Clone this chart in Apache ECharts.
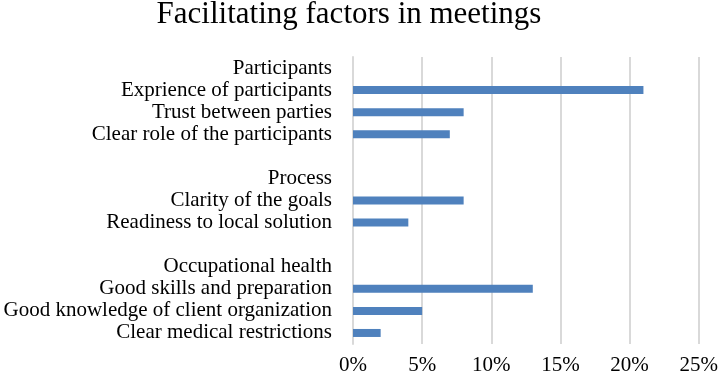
<!DOCTYPE html>
<html>
<head>
<meta charset="utf-8">
<script src="https://cdn.jsdelivr.net/npm/echarts@6/dist/echarts.min.js"></script>
<style>
  html, body { margin: 0; padding: 0; background: #fff; }
  #main { width: 721px; height: 377px; }
</style>
</head>
<body>
<div id="main"></div>
<script>
var categories = [
  'Participants',
  'Exprience of participants',
  'Trust between parties',
  'Clear role of the participants',
  '',
  'Process',
  'Clarity of the goals',
  'Readiness to local solution',
  ' ',
  'Occupational health',
  'Good skills and preparation',
  'Good knowledge of client organization',
  'Clear medical restrictions'
];
var values = [null, 0.21, 0.08, 0.07, null, null, 0.08, 0.04, null, null, 0.13, 0.05, 0.02];

var chart = echarts.init(document.getElementById('main'), null, { renderer: 'canvas' });

var option = {
  animation: false,
  title: {
    text: 'Facilitating factors in meetings',
    left: 344,
    textAlign: 'center',
    top: -6,
    textStyle: {
      fontFamily: 'Liberation Serif',
      fontWeight: 'normal',
      fontSize: 31,
      color: '#000'
    }
  },
  grid: {
    left: 353,
    right: 19,
    top: 57,
    bottom: 33,
    containLabel: false
  },
  xAxis: {
    type: 'value',
    min: 0,
    max: 0.25,
    interval: 0.05,
    axisLine: { show: false },
    axisTick: { show: false },
    splitLine: { lineStyle: { color: '#d9d9d9', width: 2 } },
    axisLabel: {
      margin: 11,
      fontFamily: 'Liberation Serif',
      fontSize: 21,
      color: '#000',
      formatter: function (v) { return Math.round(v * 100) + '%'; }
    }
  },
  yAxis: {
    type: 'category',
    inverse: true,
    data: categories,
    axisLine: { show: true, lineStyle: { color: '#d9d9d9', width: 2 } },
    axisTick: { show: false },
    axisLabel: {
      margin: 21,
      interval: 0,
      fontFamily: 'Liberation Serif',
      fontSize: 21,
      color: '#000'
    }
  },
  series: [{
    type: 'bar',
    data: values,
    barWidth: 8,
    itemStyle: { color: '#4f81bd' }
  }]
};

chart.setOption(option);
window.addEventListener('resize', chart.resize);
</script>
</body>
</html>
